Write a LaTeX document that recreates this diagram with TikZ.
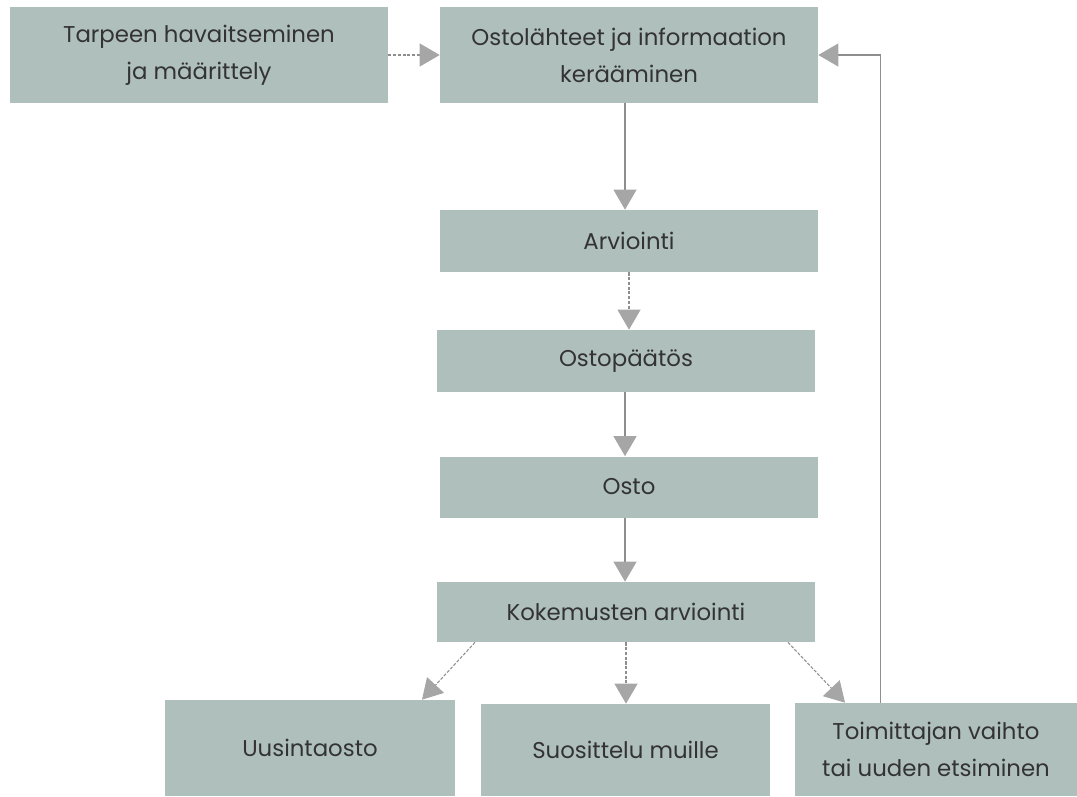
\documentclass[tikz,border=0pt]{standalone}
\usepackage{fontspec}
\setmainfont{Poppins}
\usetikzlibrary{arrows.meta}
\definecolor{boxfill}{HTML}{AFBFBC}
\definecolor{linegray}{HTML}{8E8E8E}
\definecolor{tipgray}{HTML}{A6A6A6}
\definecolor{textgray}{HTML}{333333}

\begin{document}
\begin{tikzpicture}[x=0.02cm,y=-0.02cm,
  >={Triangle[length=4mm,width=4.6mm,color=tipgray]},
  stage/.style={fill=boxfill,text=textgray,align=center,inner sep=0pt,
    font=\fontsize{13}{21}\selectfont},
  flow/.style={->,draw=linegray,line width=0.6pt},
  maybe/.style={flow,dash pattern=on 1.8pt off 0.9pt}]
\useasboundingbox (0,0) rectangle (1077,796);
\node[stage,minimum width=7.56cm,minimum height=1.92cm] (tarve) at (199,55) {Tarpeen havaitseminen\\ja määrittely};
\node[stage,minimum width=7.56cm,minimum height=1.92cm] (lahteet) at (629,55) {Ostolähteet ja informaation\\kerääminen};
\node[stage,minimum width=7.56cm,minimum height=1.24cm] (arvio) at (629,241) {Arviointi};
\node[stage,minimum width=7.56cm,minimum height=1.24cm] (paatos) at (626,361) {Ostopäätös};
\node[stage,minimum width=7.56cm,minimum height=1.22cm] (osto) at (629,487) {Osto};
\node[stage,minimum width=7.56cm,minimum height=1.2cm] (kokemus) at (626,612) {Kokemusten arviointi};
\node[stage,minimum width=5.8cm,minimum height=1.92cm] (uusinta) at (310,748) {Uusintaosto};
\node[stage,minimum width=5.78cm,minimum height=1.84cm] (suositus) at (625.5,750) {Suosittelu muille};
\node[stage,minimum width=5.64cm,minimum height=1.86cm] (vaihto) at (936,749.5) {Toimittajan vaihto\\tai uuden etsiminen};

\draw[maybe] (tarve) -- (lahteet);
\draw[flow] ([xshift=-0.08cm]lahteet.south) -- ([xshift=-0.08cm]lahteet.south |- arvio.north);
\draw[maybe] (arvio.south) -- (arvio.south |- paatos.north);
\draw[flow] ([xshift=-0.02cm]paatos.south) -- ([xshift=-0.02cm]paatos.south |- osto.north);
\draw[flow] ([xshift=-0.08cm]osto.south) -- ([xshift=-0.08cm]osto.south |- kokemus.north);
\draw[maybe] ([xshift=-3.02cm]kokemus.south) -- ([xshift=2.24cm]uusinta.north);
\draw[maybe] (kokemus.south) -- (kokemus.south |- suositus.north);
\draw[maybe] ([xshift=3.24cm]kokemus.south) -- ([xshift=-1.82cm]vaihto.north);
\draw[flow] ([xshift=-1.12cm]vaihto.north) |- (lahteet.east);
\end{tikzpicture}
\end{document}
